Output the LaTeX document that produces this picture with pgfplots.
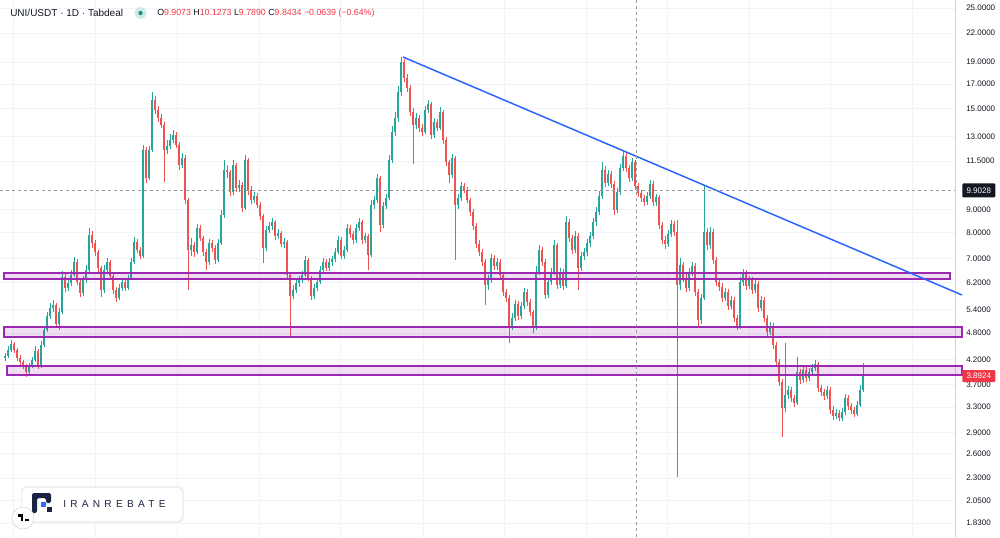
\documentclass[border=0pt]{standalone}
\usepackage{fontspec}
\setmainfont{Liberation Sans}
\usepackage{pgfplots}
\usepackage{pgfplotstable}
\pgfplotsset{compat=1.18}
\definecolor{upc}{HTML}{26A69A}
\definecolor{dnc}{HTML}{EF5350}
\definecolor{gridc}{HTML}{F0F3FA}
\definecolor{tickc}{HTML}{131722}
\definecolor{hdr}{HTML}{131722}
\definecolor{redc}{HTML}{F23645}
\definecolor{purp}{HTML}{9C27B0}
\definecolor{trend}{HTML}{2962FF}
\definecolor{crossc}{HTML}{9598A1}
\definecolor{navy}{HTML}{1B2440}
\definecolor{logoblue}{HTML}{2F6BFF}

\pgfplotstableread{
x o h l c
5 4.231 4.339 4.167 4.274
8 4.274 4.496 4.231 4.406
11 4.406 4.635 4.361 4.542
14 4.542 4.588 4.339 4.406
17 4.406 4.451 4.167 4.231
20 4.231 4.296 4.083 4.146
23 4.146 4.188 4.001 4.062
26 4.062 4.104 3.842 3.941
29 3.941 4.125 3.901 4.062
32 4.062 4.252 4.021 4.188
35 4.188 4.496 4.146 4.384
38 4.384 4.428 4.001 4.062
41 4.062 4.612 4.021 4.519
44 4.519 4.977 4.473 4.877
47 4.877 5.343 4.828 5.236
50 5.236 5.593 5.157 5.453
53 5.453 5.679 5.343 5.537
56 5.537 5.593 4.927 5.028
59 5.028 5.453 4.877 5.343
62 5.343 6.580 5.290 6.382
65 6.382 6.546 5.914 6.035
68 6.035 6.350 5.944 6.190
71 6.190 6.613 6.096 6.447
74 6.447 7.063 6.382 6.887
77 6.887 6.992 6.128 6.222
80 6.222 6.285 5.765 5.884
83 5.884 6.415 5.795 6.285
86 6.285 6.783 6.190 6.613
89 6.613 8.184 6.546 7.898
92 7.898 8.060 7.394 7.584
95 7.584 7.700 7.099 7.245
98 7.245 7.319 6.546 6.680
101 6.680 6.748 5.765 5.974
104 5.974 6.783 5.884 6.613
107 6.613 7.028 6.480 6.887
110 6.887 6.957 6.318 6.415
113 6.415 6.480 5.854 5.974
116 5.974 6.066 5.622 5.736
119 5.736 6.159 5.679 6.035
122 6.035 6.318 5.944 6.222
125 6.222 6.318 5.944 6.035
128 6.035 6.447 5.974 6.350
131 6.350 7.028 6.285 6.887
134 6.887 7.818 6.817 7.622
137 7.622 7.739 7.208 7.319
140 7.319 7.431 6.992 7.099
143 7.099 12.47 7.028 12.16
146 12.16 12.34 10.28 10.55
149 10.55 12.41 10.44 12.16
152 12.16 16.32 12.04 15.67
155 15.67 16.00 14.60 14.90
158 14.90 15.20 14.02 14.31
161 14.31 14.60 13.60 13.81
164 13.81 14.02 10.33 12.16
167 12.16 12.79 11.92 12.41
170 12.41 13.19 12.22 12.79
173 12.79 13.46 12.60 13.12
176 13.12 13.32 12.28 12.47
179 12.47 12.66 10.99 11.27
182 11.27 11.98 11.10 11.68
185 11.68 11.86 9.244 9.434
188 9.434 9.530 5.974 7.319
191 7.319 7.779 7.099 7.507
194 7.507 7.622 7.063 7.245
197 7.245 8.352 7.172 8.184
200 8.184 8.309 7.661 7.779
203 7.779 7.858 7.099 7.245
206 7.245 7.356 6.613 6.887
209 6.887 7.739 6.783 7.584
212 7.584 7.700 7.245 7.394
215 7.394 7.507 6.817 6.957
218 6.957 7.739 6.887 7.584
221 7.584 8.967 7.507 8.742
224 8.742 11.56 8.610 10.99
227 10.99 11.27 10.55 10.88
230 10.88 10.99 9.627 9.825
233 9.825 11.56 9.676 11.27
236 11.27 11.39 9.825 10.02
239 10.02 10.44 9.825 10.18
242 10.18 10.33 8.876 9.059
245 9.059 11.86 8.967 11.56
248 11.56 11.68 9.676 9.925
251 9.925 10.13 9.244 9.434
254 9.434 9.825 9.291 9.627
257 9.627 9.775 9.059 9.198
260 9.198 9.339 8.523 8.698
263 8.698 8.787 6.852 7.394
266 7.394 8.267 7.282 8.101
269 8.101 8.437 7.979 8.267
272 8.267 8.610 8.101 8.437
275 8.437 8.523 7.700 7.858
278 7.858 8.142 7.739 7.979
281 7.979 8.060 7.431 7.545
284 7.545 7.779 7.394 7.622
287 7.622 7.700 6.318 6.447
290 6.447 6.546 4.707 5.795
293 5.795 6.128 5.707 5.974
296 5.974 6.318 5.884 6.190
299 6.190 6.415 6.066 6.285
302 6.285 6.580 6.190 6.447
305 6.447 7.099 6.382 6.957
308 6.957 7.028 6.253 6.350
311 6.350 6.415 5.679 5.795
314 5.795 6.159 5.707 6.035
317 6.035 6.318 5.944 6.222
320 6.222 6.748 6.159 6.613
323 6.613 7.028 6.513 6.887
326 6.887 6.992 6.580 6.680
329 6.680 7.028 6.580 6.887
332 6.887 7.099 6.748 6.992
335 6.992 7.394 6.887 7.245
338 7.245 7.858 7.172 7.700
341 7.700 7.818 6.992 7.099
344 7.099 7.469 6.992 7.319
347 7.319 8.352 7.245 8.184
350 8.184 8.309 7.779 7.938
353 7.938 8.060 7.545 7.700
356 7.700 8.352 7.584 8.184
359 8.184 8.610 8.060 8.437
362 8.437 8.523 7.545 7.700
365 7.700 7.979 7.584 7.858
368 7.858 7.938 6.613 7.136
371 7.136 9.434 7.063 9.198
374 9.198 9.627 9.013 9.434
377 9.434 10.77 9.291 10.55
380 10.55 10.66 8.019 8.309
383 8.309 9.339 8.184 9.151
386 9.151 9.726 9.013 9.530
389 9.530 11.86 9.434 11.56
392 11.56 13.74 11.39 13.32
395 13.32 14.75 13.06 14.31
398 14.31 16.83 14.02 16.32
401 16.32 19.49 16.00 19.01
404 19.01 19.30 17.17 17.52
407 17.52 17.88 16.32 16.66
410 16.66 16.92 14.45 14.75
413 14.75 15.05 11.33 13.81
416 13.81 14.67 13.53 14.31
419 14.31 14.53 13.32 13.60
422 13.60 13.88 13.06 13.32
425 13.32 15.20 13.19 14.90
428 14.90 15.67 14.67 15.36
431 15.36 15.51 12.86 13.12
434 13.12 14.31 12.92 14.02
437 14.02 14.23 13.39 13.60
440 13.60 15.12 13.46 14.75
443 14.75 14.90 12.53 12.79
446 12.79 12.99 11.21 11.44
449 11.44 11.56 10.28 10.71
452 10.71 11.92 10.55 11.68
455 11.68 11.80 6.957 9.198
458 9.198 9.726 9.013 9.530
461 9.530 10.33 9.386 10.13
464 10.13 10.28 9.775 9.925
467 9.925 10.08 9.291 9.434
470 9.434 9.530 8.698 8.876
473 8.876 9.013 8.101 8.267
476 8.267 8.394 7.394 7.545
479 7.545 7.700 7.099 7.245
482 7.245 7.356 6.748 6.887
485 6.887 6.992 5.537 6.128
488 6.128 6.447 5.974 6.285
491 6.285 7.172 6.190 7.028
494 7.028 7.136 6.613 6.748
497 6.748 7.028 6.613 6.887
500 6.887 6.992 6.318 6.447
503 6.447 6.546 5.795 5.914
506 5.914 6.004 5.622 5.736
509 5.736 5.824 4.565 4.977
512 4.977 5.316 4.877 5.183
515 5.183 5.679 5.105 5.565
518 5.565 5.650 5.131 5.236
521 5.236 5.622 5.157 5.509
524 5.509 6.035 5.425 5.914
527 5.914 6.004 5.509 5.622
530 5.622 5.707 5.236 5.343
533 5.343 5.398 4.803 4.977
536 4.977 6.748 4.877 6.546
539 6.546 7.507 6.447 7.319
542 7.319 7.431 6.748 6.887
545 6.887 6.992 5.707 5.824
548 5.824 6.350 5.736 6.222
551 6.222 6.680 6.128 6.546
554 6.546 7.700 6.447 7.507
557 7.507 7.584 6.004 6.128
560 6.128 6.680 6.035 6.546
563 6.546 6.646 5.974 6.096
566 6.096 8.698 6.035 8.437
569 8.437 8.566 7.622 7.779
572 7.779 7.898 7.172 7.319
575 7.319 8.060 7.208 7.858
578 7.858 7.979 5.974 6.680
581 6.680 7.245 6.580 7.099
584 7.099 7.394 6.957 7.245
587 7.245 7.739 7.099 7.584
590 7.584 8.019 7.431 7.858
593 7.858 8.610 7.739 8.437
596 8.437 9.105 8.267 8.876
599 8.876 9.875 8.742 9.627
602 9.627 11.44 9.482 10.99
605 10.99 11.21 10.08 10.28
608 10.28 10.99 10.13 10.77
611 10.77 10.93 10.02 10.23
614 10.23 10.39 8.742 8.967
617 8.967 10.02 8.832 9.825
620 9.825 11.33 9.676 11.10
623 11.10 12.10 10.93 11.80
626 11.80 11.98 10.88 11.10
629 11.10 11.27 10.33 10.55
632 10.55 11.68 10.39 11.44
635 11.44 11.56 9.925 10.13
638 10.13 10.28 9.579 9.775
641 9.775 9.925 9.339 9.530
644 9.530 9.676 9.151 9.339
647 9.339 9.825 9.198 9.627
650 9.627 10.44 9.482 10.23
653 10.23 10.39 9.151 9.339
656 9.339 9.726 9.151 9.579
659 9.579 9.676 8.142 8.309
662 8.309 8.437 7.545 7.700
665 7.700 7.858 7.356 7.545
668 7.545 8.101 7.431 7.938
671 7.938 8.523 7.818 8.352
674 8.352 8.480 7.858 8.019
677 8.019 8.523 2.312 6.128
680 6.128 7.028 5.974 6.783
683 6.783 6.887 6.222 6.350
686 6.350 6.480 5.914 6.035
689 6.035 6.680 5.944 6.546
692 6.546 6.887 6.415 6.748
695 6.748 6.852 5.795 5.914
698 5.914 6.004 4.952 5.131
701 5.131 5.854 5.028 5.736
704 5.736 10.18 5.679 8.019
707 8.019 8.184 7.319 7.507
710 7.507 8.225 7.356 8.019
713 8.019 8.142 6.817 6.957
716 6.957 7.063 6.096 6.222
719 6.222 6.350 5.944 6.066
722 6.066 6.190 5.622 5.736
725 5.736 6.035 5.650 5.914
728 5.914 6.004 5.398 5.509
731 5.509 5.795 5.425 5.679
734 5.679 5.765 5.079 5.183
737 5.183 5.263 4.877 4.977
740 4.977 6.382 4.902 6.222
743 6.222 6.646 6.096 6.513
746 6.513 6.613 5.974 6.096
749 6.096 6.415 6.004 6.285
752 6.285 6.382 5.854 5.974
755 5.974 6.350 5.884 6.159
758 6.159 6.253 5.343 5.453
761 5.453 5.795 5.371 5.679
764 5.679 5.765 5.079 5.183
767 5.183 5.263 4.731 4.828
770 4.828 5.079 4.755 4.977
773 4.977 5.053 4.428 4.519
776 4.519 4.588 4.062 4.146
779 4.146 4.209 3.670 3.746
782 3.746 3.803 2.833 3.282
785 3.282 4.565 3.216 3.506
788 3.506 3.670 3.435 3.596
791 3.596 3.652 3.383 3.453
794 3.453 3.506 3.299 3.366
797 3.366 4.252 3.332 3.941
800 3.941 4.001 3.708 3.784
803 3.784 4.062 3.727 3.981
806 3.981 4.042 3.746 3.823
809 3.823 4.021 3.765 3.941
812 3.941 4.104 3.881 4.021
815 4.021 4.188 3.961 4.104
818 4.104 4.146 3.560 3.633
821 3.633 3.689 3.488 3.560
824 3.560 3.615 3.418 3.488
827 3.488 3.670 3.435 3.596
830 3.596 3.652 3.184 3.249
833 3.249 3.315 3.088 3.152
836 3.152 3.265 3.104 3.200
839 3.200 3.249 3.072 3.120
842 3.120 3.282 3.072 3.216
845 3.216 3.524 3.168 3.453
848 3.453 3.506 3.249 3.315
851 3.315 3.366 3.184 3.249
854 3.249 3.299 3.136 3.184
857 3.184 3.401 3.152 3.332
860 3.332 3.689 3.299 3.596
863 3.596 4.125 3.560 3.8924
}\candles

\begin{document}
\begin{tikzpicture}
\fill[white] (0,0) rectangle (750pt,402.75pt);
\useasboundingbox (0,0) rectangle (750pt,402.75pt);
\begin{axis}[
  at={(0,0)}, anchor=south west,
  width=716.25pt, height=402.75pt, scale only axis,
  xmin=0, xmax=955, ymin=0.53360, ymax=3.25949,
  clip=false,
  axis line style={draw=none},
  tick style={draw=none},
  xtick=\empty,
  ymajorgrids,
  grid style={color=gridc, line width=0.6pt},
  ytick={3.21888,3.09104,2.94444,2.83321,2.70805,2.56495,2.44235,2.19722,2.07944,1.94591,1.82455,1.68640,1.56862,1.43508,1.30833,1.19392,1.06471,0.95551,0.83291,0.71784,0.60432},
  yticklabels={25.0000,22.0000,19.0000,17.0000,15.0000,13.0000,11.5000,9.0000,8.0000,7.0000,6.2000,5.4000,4.8000,4.2000,3.7000,3.3000,2.9000,2.6000,2.3000,2.0500,1.8300},
  yticklabel pos=right,
  yticklabel style={font=\fontsize{6}{7}\selectfont, text=tickc, anchor=west, inner sep=0pt, xshift=8.25pt},
  candle/.style={draw=none, mark=none, mark size=0pt, forget plot},
]
% vertical grid lines
\pgfplotsinvokeforeach{13,95,177,259,340,423,504,586,667,749,830,912}{
  \draw[gridc, line width=0.6pt] (axis cs:#1,0.53360) -- (axis cs:#1,3.25949);
}
% down candles: wicks and bodies
\addplot[candle, error bars/.cd, y dir=plus, y explicit, error mark=none,
  error bar style={draw=dnc, line width=0.55pt}]
  table[x=x, y expr={ln(\thisrow{l})}, y error plus expr={(\thisrow{c}<\thisrow{o})*(ln(\thisrow{h})-ln(\thisrow{l}))}]{\candles};
\addplot[candle, error bars/.cd, y dir=plus, y explicit, error mark=none,
  error bar style={draw=dnc, line width=1.25pt}]
  table[x=x, y expr={ln(min(\thisrow{o},\thisrow{c}))}, y error plus expr={(\thisrow{c}<\thisrow{o})*(ln(\thisrow{o})-ln(\thisrow{c}))}]{\candles};
% up candles
\addplot[candle, error bars/.cd, y dir=plus, y explicit, error mark=none,
  error bar style={draw=upc, line width=0.55pt}]
  table[x=x, y expr={ln(\thisrow{l})}, y error plus expr={(\thisrow{c}>\thisrow{o})*(ln(\thisrow{h})-ln(\thisrow{l}))}]{\candles};
\addplot[candle, error bars/.cd, y dir=plus, y explicit, error mark=none,
  error bar style={draw=upc, line width=1.25pt}]
  table[x=x, y expr={ln(min(\thisrow{o},\thisrow{c}))}, y error plus expr={(\thisrow{c}>\thisrow{o})*(ln(\thisrow{c})-ln(\thisrow{o}))}]{\candles};

% price scale separator
\draw[color=gridc!70!gray, line width=0.5pt] (axis cs:955,0.53360) -- (axis cs:955,3.25949);

% zones
\draw[purp, line width=1.1pt, fill=purp, fill opacity=0.15] (axis cs:4,1.84325) rectangle (axis cs:950,1.87370);
\draw[purp, line width=1.1pt, fill=purp, fill opacity=0.15] (axis cs:4,1.54883) rectangle (axis cs:962,1.59959);
\draw[purp, line width=1.1pt, fill=purp, fill opacity=0.15] (axis cs:7,1.35594) rectangle (axis cs:962,1.40162);

% trend line
\draw[trend, line width=1.1pt] (axis cs:403,2.97015) -- (axis cs:962,1.76203);

% crosshair
\draw[crossc, line width=0.6pt, dash pattern=on 2.25pt off 2.25pt] (axis cs:636,0.53360) -- (axis cs:636,3.25949);
\draw[crossc, line width=0.6pt, dash pattern=on 2.25pt off 2.25pt] (axis cs:0,2.29281) -- (axis cs:955,2.29281);

% price labels
\node[fill=hdr, text=white, font=\fontsize{6}{7}\selectfont, anchor=west, minimum width=24.75pt, minimum height=10.5pt, inner sep=0pt, rounded corners=0.8pt] at (axis cs:962,2.29281) {9.9028};
\node[fill=redc, text=white, font=\fontsize{6}{7}\selectfont, anchor=west, minimum width=24.75pt, minimum height=9pt, inner sep=0pt, rounded corners=0.8pt] at (axis cs:962,1.35086) {3.8924};

% header
\node[anchor=west, inner sep=0pt, font=\fontsize{7.5}{9}\selectfont, text=hdr] at (axis cs:10,3.1935) {UNI/USDT · 1D · Tabdeal};
\fill[upc!22] (axis cs:140.5,3.1935) circle[radius=4.4pt];
\fill[upc!85!black] (axis cs:140.5,3.1935) circle[radius=1.6pt];
\node[anchor=west, inner sep=0pt, font=\fontsize{6.6}{8}\selectfont] at (axis cs:157,3.1935)
  {\textcolor{hdr}{O}\textcolor{redc}{9.9073}\ \textcolor{hdr}{H}\textcolor{redc}{10.1273}\ \textcolor{hdr}{L}\textcolor{redc}{9.7890}\ \textcolor{hdr}{C}\textcolor{redc}{9.8434}\ \textcolor{redc}{−0.0639 (−0.64\%)}};

% logo badge
\fill[black!6, rounded corners=4pt] (axis cs:21,{3.25949-486/197}) rectangle (axis cs:184,{3.25949-523/197});
\fill[white, rounded corners=4pt] (axis cs:22,{3.25949-488/197}) rectangle (axis cs:182,{3.25949-521/197});
\fill[navy, rounded corners=1.2pt] (axis cs:32,{3.25949-513/197}) -- (axis cs:32,{3.25949-493/197}) -- (axis cs:51,{3.25949-493/197}) -- (axis cs:51,{3.25949-503/197}) -- (axis cs:46,{3.25949-503/197}) -- (axis cs:46,{3.25949-498/197}) -- (axis cs:37,{3.25949-498/197}) -- (axis cs:37,{3.25949-513/197}) -- cycle;
\fill[logoblue] (axis cs:41,{3.25949-502/197}) rectangle (axis cs:46,{3.25949-507/197});
\fill[navy] (axis cs:47,{3.25949-507/197}) rectangle (axis cs:52,{3.25949-512/197});
\node[anchor=west, inner sep=0pt, text=navy, font=\fontsize{7.6}{9}\selectfont\addfontfeature{LetterSpace=42}] at (axis cs:63,{3.25949-504/197}) {IRANREBATE};
\filldraw[fill=white, draw=black!15, line width=0.5pt] (axis cs:23,{3.25949-518/197}) circle[radius=8.25pt];
\fill[black] (axis cs:18,{3.25949-514/197}) rectangle (axis cs:23,{3.25949-516.5/197});
\fill[black] (axis cs:21,{3.25949-514/197}) rectangle (axis cs:23,{3.25949-521/197});
\fill[black] (axis cs:25,{3.25949-519/197}) rectangle (axis cs:29,{3.25949-521/197});
\end{axis}
\end{tikzpicture}
\end{document}
